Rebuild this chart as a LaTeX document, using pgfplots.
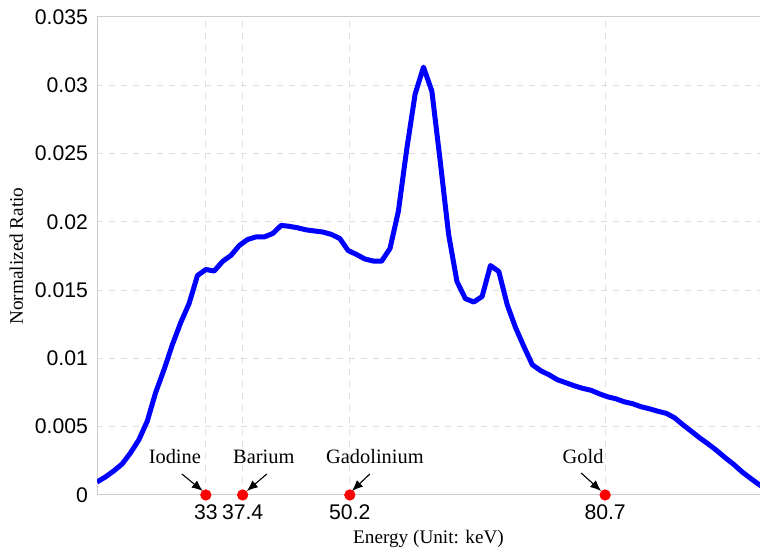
\documentclass[border=0pt]{standalone}
\usepackage{fontspec}
\setmainfont{Liberation Serif}
\newfontfamily\tickfont{Liberation Sans}
\usepackage{pgfplots}
\pgfplotsset{compat=1.18}
\usetikzlibrary{arrows.meta}
\definecolor{gridgray}{RGB}{222,222,222}
\definecolor{axgray}{RGB}{205,205,205}
\begin{document}
\begin{tikzpicture}
\begin{axis}[
  name=ax,
  scale only axis,
  width=331.5pt, height=239pt,
  xmin=20, xmax=99.2,
  ymin=0, ymax=0.035,
  axis line style={axgray, line width=0.5pt},
  xtick={33,37.4,50.2,80.7},
  xticklabels={33,37.4,50.2,80.7},
  ytick={0,0.005,0.01,0.015,0.02,0.025,0.03,0.035},
  yticklabels={0,0.005,0.01,0.015,0.02,0.025,0.03,0.035},
  scaled y ticks=false,
  major tick length=0pt,
  tick style={draw=none},
  grid=major,
  major grid style={gridgray, dashed, line width=0.5pt},
  ticklabel style={font=\tickfont\fontsize{10.6}{12}\selectfont},
  /pgf/number format/assume math mode=true,
  xticklabel style={yshift=-1.5pt},
  yticklabel style={xshift=-1pt},
  xlabel={Energy (Unit: keV)},
  ylabel={Normalized Ratio},
  label style={font=\fontsize{9.6}{11}\selectfont},
  xlabel style={yshift=2pt},
  ylabel style={yshift=-1pt},
]
\addplot[blue, line width=2.5pt, line join=round] coordinates {
(20,0.00095) (21,0.00132) (22,0.00176) (23,0.00227) (24,0.00308)
(25,0.00404) (26,0.0054) (27,0.00749) (28,0.00917) (29,0.0110)
(30,0.01262) (31,0.01402) (32,0.01607) (33,0.01651) (34,0.0164)
(35,0.0171) (36,0.01754) (37,0.01827) (38,0.01871) (39,0.0189)
(40,0.0189) (41,0.01915) (42,0.01974) (43,0.01967) (44,0.01956)
(45,0.01941) (46,0.01933) (47,0.01925) (48,0.01908) (49,0.01878)
(50,0.0179) (51,0.01761) (52,0.01728) (53,0.01713) (54,0.01712)
(55,0.01805) (56,0.02077) (57,0.02532) (58,0.02935) (59,0.03133)
(60,0.02957) (61,0.02444) (62,0.01908) (63,0.01563) (64,0.01438)
(65,0.01413) (66,0.01453) (67,0.0168) (68,0.01636) (69,0.01394)
(70,0.01225) (71,0.01086) (72,0.00954) (73,0.0091) (74,0.0088)
(75,0.00844) (76,0.00822) (77,0.0080) (78,0.00781) (79,0.00767)
(80,0.00741) (81,0.00719) (82,0.00704) (83,0.00682) (84,0.00668)
(85,0.00646) (86,0.00631) (87,0.00613) (88,0.00598) (89,0.00565)
(90,0.00514) (91,0.00466) (92,0.00418) (93,0.00374) (94,0.00327)
(95,0.00275) (96,0.00227) (97,0.00172) (98,0.00125) (99,0.0008)
(100,0.0004)
};
\addplot[only marks, mark=*, mark size=2.6pt, red, mark options={draw=red, fill=red}] coordinates {
(33,0) (37.4,0) (50.2,0) (80.7,0)
};
\node[font=\fontsize{10.2}{12}\selectfont] at (axis cs:29.3,0.00279) {Iodine};
\node[font=\fontsize{10.2}{12}\selectfont] at (axis cs:39.93,0.00279) {Barium};
\node[font=\fontsize{10.2}{12}\selectfont] at (axis cs:53.2,0.00279) {Gadolinium};
\node[font=\fontsize{10.2}{12}\selectfont] at (axis cs:78.07,0.00279) {Gold};
\draw[-{Latex[length=5.5pt,width=4.5pt]}, line width=0.55pt] (axis cs:30.13,0.00154) -- (axis cs:32.64,0.00029);
\draw[-{Latex[length=5.5pt,width=4.5pt]}, line width=0.55pt] (axis cs:40.29,0.00154) -- (axis cs:37.9,0.00029);
\draw[-{Latex[length=5.5pt,width=4.5pt]}, line width=0.55pt] (axis cs:52.6,0.00154) -- (axis cs:50.45,0.00029);
\draw[-{Latex[length=5.5pt,width=4.5pt]}, line width=0.55pt] (axis cs:77.83,0.00161) -- (axis cs:80.22,0.00029);
\end{axis}
\pgfresetboundingbox
\path[use as bounding box] ([xshift=-48.5pt,yshift=-29pt]ax.south west) rectangle ([yshift=8.5pt]ax.north east);
\end{tikzpicture}
\end{document}
